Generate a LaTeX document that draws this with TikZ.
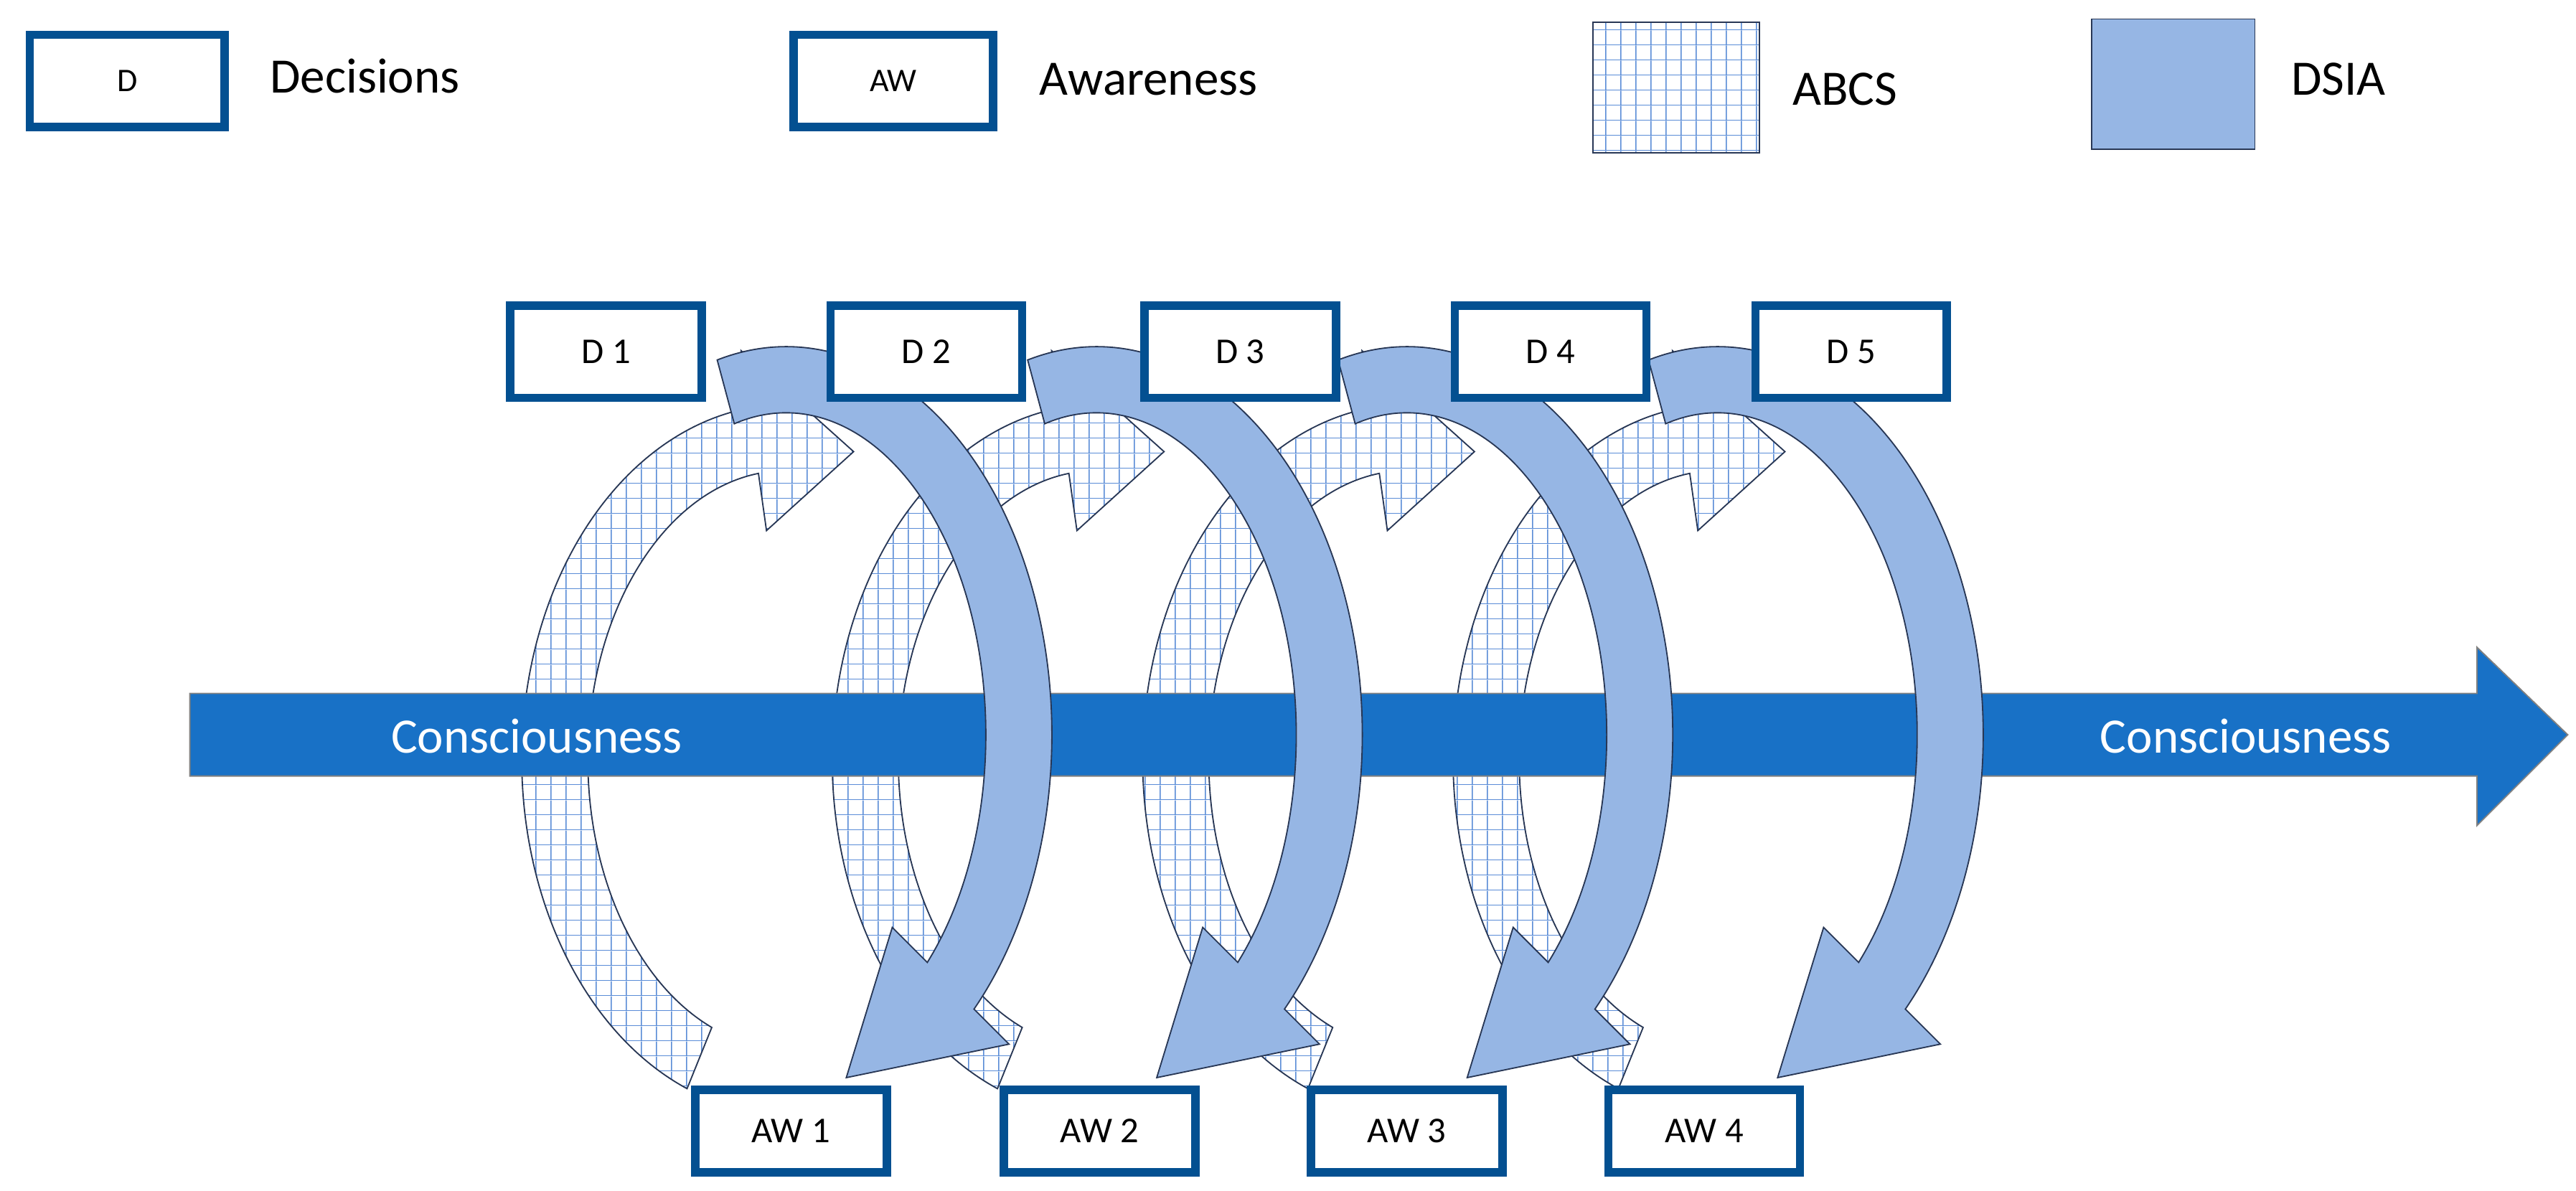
\documentclass[tikz,border=0pt]{standalone}
\usepackage{fontspec}
\setmainfont{Carlito}
\usetikzlibrary{calc,patterns.meta}
\definecolor{boxblue}{RGB}{3,80,145}
\definecolor{gridblue}{RGB}{90,140,215}
\definecolor{dsia}{RGB}{150,182,228}
\definecolor{cons}{RGB}{24,113,198}
\definecolor{edge}{RGB}{40,55,85}
\tikzdeclarepattern{
  name=abcsgrid, type=colored,
  bounding box={(0pt,0pt) and (9pt,9pt)},
  tile size={(9pt,9pt)},
  code={\draw[line width=1.4pt,draw=gridblue] (0pt,0pt)--(0pt,9pt);
        \draw[line width=0.7pt,draw=gridblue] (0pt,0pt)--(9pt,0pt);}
}
\newcommand{\carrow}[9]{%
  \pgfmathsetmacro\rxo{#4+20}\pgfmathsetmacro\ryo{#5+20}%
  \pgfmathsetmacro\rxi{#4-20}\pgfmathsetmacro\ryi{#5-20}%
  \pgfmathsetmacro\rxw{#4+20+#9}\pgfmathsetmacro\ryw{#5+20+#9}%
  \pgfmathsetmacro\rxv{#4-20-#9}\pgfmathsetmacro\ryv{#5-20-#9}%
  \path[#1] ($(#2,#3)+(#6:\rxo\space and \ryo)$)
    arc[start angle=#6,end angle=#7,x radius=\rxo,y radius=\ryo]
    -- ($(#2,#3)+(#7:\rxw\space and \ryw)$)
    -- ($(#2,#3)+(#8:#4 and #5)$)
    -- ($(#2,#3)+(#7:\rxv\space and \ryv)$)
    -- ($(#2,#3)+(#7:\rxi\space and \ryi)$)
    arc[start angle=#7,end angle=#6,x radius=\rxi,y radius=\ryi] -- cycle;}
\tikzset{
  box/.style={draw=boxblue,line width=5pt,fill=white,minimum width=116pt,inner sep=0pt,font=\fontsize{22}{22}\selectfont},
  abcs/.style={draw=edge,line width=0.8pt,preaction={fill=white},pattern=abcsgrid},
  dsiaf/.style={draw=edge,line width=0.8pt,fill=dsia},
  lbl/.style={anchor=west,font=\fontsize{30}{30}\selectfont},
}
\begin{document}
\begin{tikzpicture}[x=1pt,y=-1pt]
\useasboundingbox (0,0) rectangle (1560,721);
% legend
\node[box,minimum width=118pt,minimum height=56pt] (lD) at (77,49) {\fontsize{20}{20}\selectfont D};
\node[lbl] (tD) at (160,46) {Decisions};
\node[box,minimum width=121pt,minimum height=56pt] (lAW) at (541,49) {\fontsize{20}{20}\selectfont AW};
\node[lbl] (tAW) at (626,48) {Awareness};
\node[abcs,minimum width=101pt,minimum height=79pt] (lA) at (1015,53) {};
\node[lbl] (tA) at (1082,54) {ABCS};
\node[dsiaf,minimum width=99pt,minimum height=79pt] (lS) at (1316,51) {};
\node[lbl] (tS) at (1384,48) {DSIA};
% ABCS rings
\foreach \k in {0,1,2,3}{
  \carrow{abcs}{476+188*\k}{460}{140}{195}{112}{262}{287}{35}
}
% consciousness arrow
\path[fill=cons,draw=gray,line width=0.8pt] (115,420) -- (1500,420) -- (1500,392) -- (1555,445) -- (1500,500) -- (1500,470) -- (115,470) -- cycle;
\node[text=white,font=\fontsize{30}{30}\selectfont] (c1) at (325,446) {Consciousness};
\node[text=white,font=\fontsize{30}{30}\selectfont] (c2) at (1360,446) {Consciousness};
% DSIA arcs
\foreach \k in {0,1,2,3}{
  \carrow{dsiaf}{476+188*\k}{445}{141}{215}{255}{405}{435}{30}
}
% boxes
\foreach \n/\x in {1/367,2/561,3/751,4/939,5/1121}{
  \node[box,minimum height=56pt] (D\n) at (\x,213) {D \n};
}
\foreach \n/\x in {1/479,2/666,3/852,4/1032}{
  \node[box,minimum height=50pt] (AW\n) at (\x,685) {AW \n};
}
\end{tikzpicture}
\end{document}
